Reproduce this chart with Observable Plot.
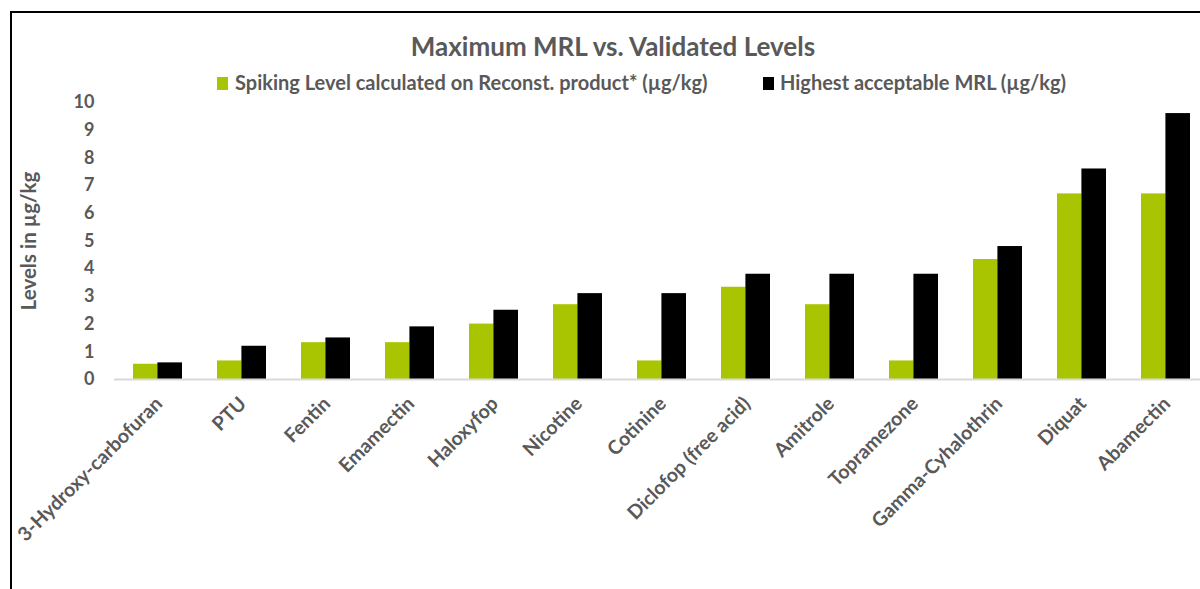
<!DOCTYPE html>
<html>
<head>
<meta charset="utf-8">
<script src="https://cdn.jsdelivr.net/npm/d3@7"></script>
<script src="https://cdn.jsdelivr.net/npm/@observablehq/plot@0.6"></script>
<style>
  html, body { margin: 0; padding: 0; background: #fff; overflow: hidden; }
  #chart { position: relative; width: 1200px; height: 589px; overflow: hidden; font-family: Lato, "Open Sans", sans-serif; color: #595959; }
  #frame { position: absolute; left: 10px; top: 11px; width: 1300px; height: 700px; border-top: 2px solid #000; border-left: 2px solid #000; }
  #plot { position: absolute; left: 0; top: 0; }
  #plot svg { max-width: none; }
  .title { position: absolute; left: 613px; top: 33px; transform: translateX(-50%); font-size: 26px; font-weight: 700; line-height: 1; white-space: nowrap; }
  .legend-item { position: absolute; top: 72px; font-size: 20px; font-weight: 700; line-height: 1; white-space: nowrap; }
  .swatch { position: absolute; top: 77px; width: 11px; height: 13px; }
</style>
</head>
<body>
<div id="chart">
  <div id="plot"></div>
  <div id="frame"></div>
  <div class="title">Maximum MRL vs. Validated Levels</div>
  <div class="swatch" style="left:217px;background:#a9c400"></div>
  <div class="legend-item" style="left:235px">Spiking Level calculated on Reconst. product* (µg/kg)</div>
  <div class="swatch" style="left:763px;background:#000"></div>
  <div class="legend-item" style="left:780px">Highest acceptable MRL (µg/kg)</div>
</div>
<script>
// Compounds, in plotting order
const compounds = [
  "3-Hydroxy-carbofuran", "PTU", "Fentin", "Emamectin", "Haloxyfop", "Nicotine",
  "Cotinine", "Diclofop (free acid)", "Amitrole", "Topramezone",
  "Gamma-Cyhalothrin", "Diquat", "Abamectin"
];
// Spiking level calculated on reconstituted product (µg/kg)
const spikingLevel = [0.55, 0.67, 1.33, 1.33, 2.0, 2.7, 0.67, 3.33, 2.7, 0.67, 4.33, 6.7, 6.7];
// Highest acceptable MRL (µg/kg)
const highestMRL = [0.6, 1.2, 1.5, 1.9, 2.5, 3.1, 3.1, 3.8, 3.8, 3.8, 4.8, 7.6, 9.6];
const yTicks = [0, 1, 2, 3, 4, 5, 6, 7, 8, 9, 10];
const yTitle = "Levels in µg/kg";

const spikeRows = compounds.map((c, i) => ({compound: c, value: spikingLevel[i]}));
const mrlRows = compounds.map((c, i) => ({compound: c, value: highestMRL[i]}));

const width = 1210, height = 589;
const marginLeft = 114, marginRight = 2, marginTop = 102, marginBottom = 210;
const paddingInner = 0.42, paddingOuter = 0.21;
const step = (width - marginLeft - marginRight) / (compounds.length - paddingInner + 2 * paddingOuter);
const half = step * (1 - paddingInner) / 2;

const green = "#a9c400";
const textColor = "#595959";

const chart = Plot.plot({
  width, height, marginLeft, marginRight, marginTop, marginBottom,
  style: {fontFamily: "Lato, 'Open Sans', sans-serif", color: textColor, background: "transparent"},
  x: {domain: compounds, paddingInner, paddingOuter, label: null},
  y: {domain: [0, 10], label: null},
  marks: [
    Plot.barY(spikeRows, {x: "compound", y: "value", fill: green, insetRight: half}),
    Plot.barY(mrlRows, {x: "compound", y: "value", fill: "#000", insetLeft: half}),
    Plot.ruleY([0], {stroke: "#d9d9d9", strokeWidth: 2}),
    Plot.axisY({
      ticks: yTicks, tickSize: 0, tickPadding: 20, fontSize: 18, fontWeight: 700, fill: textColor, label: null
    }),
    Plot.text([yTitle], {
      frameAnchor: "left", textAnchor: "middle", rotate: -90, dx: -85,
      fontSize: 20.5, fontWeight: 700, fill: textColor
    }),
    Plot.axisX({
      tickSize: 0, tickRotate: -45, fontSize: 19.5, fontWeight: 700, fill: textColor,
      textAnchor: "end", tickPadding: 14, dx: 1, dy: 7, label: null
    })
  ]
});
document.getElementById("plot").appendChild(chart);
</script>
</body>
</html>
